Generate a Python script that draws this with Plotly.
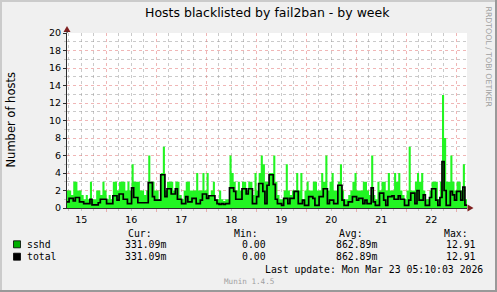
import pandas as pd
import plotly.graph_objects as go

# ---------------- data ----------------
title = "Hosts blacklisted by fail2ban - by week"
y_title = "Number of hosts"
start = "2026-03-15 05:10:03"
end = "2026-03-23 05:10:03"

# hourly values (192 hours)
sshd = [2, 2, 1.5, 3, 3, 2, 2, 1.5, 1, 1.5, 1, 3, 1, 1, 2, 2, 1.5, 3, 2, 1,
        1.5, 1, 3, 3, 2, 3, 3, 3, 2, 3, 2, 5, 3, 3, 3, 2, 2, 1.5, 2, 6,
        3, 3, 2, 2, 1, 4, 7, 2,
        3, 3, 3, 2, 3, 3, 1.5, 1, 2, 3, 3, 2, 2, 2, 4, 2, 2, 4, 2, 4,
        1.5, 2, 3, 1, 1, 2, 1, 0.8, 1, 1, 6, 4, 3, 2, 3, 2, 3, 3, 2, 3,
        3, 1.5, 4, 2, 4, 6, 5, 3,
        3, 4, 4, 6, 3, 1.5, 1, 1, 2, 5, 2, 1.5, 2, 2, 4, 2, 4, 1, 2, 3,
        2, 2, 3, 3, 2, 2, 4, 3, 6, 2, 3, 4, 2, 2, 3, 5, 2, 1, 1, 1.5,
        2, 3, 4, 2, 2, 2, 3, 3,
        2, 1.5, 6, 1.5, 1, 3, 2, 3, 3, 2, 4, 2, 2, 4, 3, 4, 2, 1.5, 1, 2,
        7, 2, 2, 3, 4, 3, 4, 2, 1, 1, 2, 3, 3, 3, 1, 3, 12.91, 8, 3, 3,
        6, 3, 2, 3, 3, 2, 5, 1]

total = [0.7, 1.1, 1.1, 0.8, 1.2, 1.2, 0.7, 0.7, 0.5, 0.5, 0.5, 1.0, 0.35, 0.35, 0.35, 0.6, 1.0, 1.0, 1.0, 0.5,
         0.5, 0.5, 1.4, 1.4, 0.9, 1.6, 1.6, 1.0, 1.0, 0.5, 0.5, 2.3, 1.2, 1.2, 0.6, 0.6, 0.6, 0.6, 0.6, 2.9,
         2.9, 1.3, 0.9, 0.9, 0.9, 3.8, 3.8, 1.3,
         2.2, 2.2, 1.6, 1.6, 2.2, 1.0, 1.0, 0.5, 0.5, 1.3, 0.7, 0.7, 1.1, 1.1, 0.5, 0.5, 0.9, 1.6, 1.6, 1.1,
         1.4, 1.4, 1.4, 0.9, 0.5, 0.4, 0.5, 0.4, 0.5, 0.5, 2.3, 2.3, 1.9, 1.0, 1.0, 1.0, 2.2, 2.2, 1.6, 2.2,
         2.2, 0.5, 0.5, 1.3, 2.8, 2.8, 1.9, 0.5,
         2.6, 3.8, 3.8, 2.7, 1.0, 0.5, 0.5, 0.3, 1.1, 1.1, 0.5, 1.1, 1.1, 1.9, 1.9, 0.5, 0.5, 0.9, 0.3, 0.3,
         1.3, 1.3, 1.1, 0.3, 0.3, 1.3, 1.3, 2.2, 2.2, 0.5, 0.9, 0.9, 0.5, 0.5, 2.6, 2.6, 0.9, 0.3, 0.3, 0.7,
         0.7, 1.3, 1.3, 0.9, 1.1, 1.1, 0.5, 0.9,
         0.5, 0.5, 2.3, 0.7, 0.3, 0.3, 1.7, 1.7, 0.9, 0.3, 1.3, 1.3, 1.4, 1.0, 1.0, 1.4, 1.0, 1.0, 0.3, 0.3,
         0.9, 1.7, 1.7, 0.5, 2.0, 0.9, 0.9, 1.5, 0.3, 0.3, 1.2, 2.2, 2.2, 0.9, 0.3, 1.2, 5.3, 2.0, 0.3, 0.3,
         1.9, 1.5, 0.9, 1.9, 1.9, 0.9, 2.4, 0.33]

legend_names = ["sshd", "total"]
stat_headers = ["Cur:", "Min:", "Avg:", "Max:"]
sshd_stats = ["331.09m", "0.00", "862.89m", "12.91"]
total_stats = ["331.09m", "0.00", "862.89m", "12.91"]
last_update = "Last update: Mon Mar 23 05:10:03 2026"
version = "Munin 1.4.5"
watermark = "RRDTOOL / TOBI OETIKER"

# ---------------- styles ----------------
W, H = 497, 292
L, R, T, B = 67, 467, 33, 208
GREEN_AREA = "#22F522"
GREEN_SWATCH = "#00B000"
MGRID = "rgba(225,110,110,0.5)"
GRID = "rgba(150,150,150,0.5)"
AXIS = "#2C2C2C"
ARROW = "#7F1F1F"
SANS = "DejaVu Sans"
MONO = "DejaVu Sans Mono"


def px(x):
    return (x - L) / (R - L)


def py(y):
    return (B - y) / (B - T)


times = pd.date_range(start, periods=len(sshd) + 1, freq="h")
sshd_y = sshd + [sshd[-1]]
total_y = total + [total[-1]]

# minor grid positions that do not coincide with the major grid
x_minor = [t for t in pd.date_range("2026-03-15 00:00", "2026-03-23 12:00", freq="6h") if t.hour != 0]
y_minor = list(range(1, 20, 2))

fig = go.Figure()
fig.add_trace(go.Scatter(x=times, y=sshd_y, mode="lines", name=legend_names[0],
                         line=dict(width=0, shape="hv", color=GREEN_AREA),
                         fill="tozeroy", fillcolor=GREEN_AREA, hoverinfo="skip"))
fig.add_trace(go.Scatter(x=times, y=total_y, mode="lines", name=legend_names[1],
                         line=dict(width=1.7, shape="hv", color="#000000"), hoverinfo="skip"))

fig.update_layout(
    width=W, height=H,
    margin=dict(l=L, r=W - R, t=T, b=H - B, pad=0),
    paper_bgcolor="#F0F0F0", plot_bgcolor="#FFFFFF",
    showlegend=False,
    font=dict(family=SANS, size=9, color="#000000"),
    xaxis=dict(
        type="date", range=[start, end], dtick=86400000, tickformat="%d",
        ticklabelmode="period", showgrid=True, gridcolor=MGRID, griddash="dot", gridwidth=1,
        ticks="outside", ticklen=3, tickcolor=MGRID, showline=True, linecolor=AXIS, linewidth=1,
        zeroline=False, tickfont=dict(family=SANS, size=9.5),
        minor=dict(tickmode="array", tickvals=x_minor, showgrid=True, gridcolor=GRID,
                   griddash="dot", gridwidth=1, ticks="outside", ticklen=2, tickcolor=GRID),
        fixedrange=True,
    ),
    yaxis=dict(
        range=[0, 20], dtick=2, tick0=0, showgrid=True, gridcolor=MGRID, griddash="dot", gridwidth=1,
        ticks="outside", ticklen=3, tickcolor=AXIS, showline=True, linecolor=AXIS, linewidth=1,
        zeroline=False, tickfont=dict(family=SANS, size=9.5),
        minor=dict(tickmode="array", tickvals=y_minor, showgrid=True, gridcolor=GRID,
                   griddash="dot", gridwidth=1, ticks="outside", ticklen=2, tickcolor=GRID),
        fixedrange=True,
    ),
)

ann = []
ann.append(dict(text=title, x=px(267), y=py(13), xref="paper", yref="paper",
                xanchor="center", yanchor="middle", showarrow=False,
                font=dict(family=SANS, size=12.5, color="#000000")))
ann.append(dict(text=y_title, x=px(10), y=py(120.5), xref="paper", yref="paper",
                xanchor="center", yanchor="middle", showarrow=False, textangle=-90,
                font=dict(family=SANS, size=11.5, color="#000000")))
ann.append(dict(text=watermark, x=px(488), y=py(56.5), xref="paper", yref="paper",
                xanchor="center", yanchor="middle", showarrow=False, textangle=90,
                font=dict(family=SANS, size=7.8, color="#A0A0A0")))

mono = dict(family=MONO, size=9.8, color="#000000")
header_right = [153, 259, 364, 469]
value_right = [167, 267, 378, 477]
for h, xr in zip(stat_headers, header_right):
    ann.append(dict(text=h, x=px(xr), y=py(233), xref="paper", yref="paper",
                    xanchor="right", yanchor="middle", showarrow=False, font=mono))
rows_y = [244.3, 256.7]
for name, stats, yy in zip(legend_names, [sshd_stats, total_stats], rows_y):
    ann.append(dict(text=name, x=px(26), y=py(yy), xref="paper", yref="paper",
                    xanchor="left", yanchor="middle", showarrow=False, font=mono))
    for s, xr in zip(stats, value_right):
        ann.append(dict(text=s, x=px(xr), y=py(yy), xref="paper", yref="paper",
                        xanchor="right", yanchor="middle", showarrow=False, font=mono))
ann.append(dict(text=last_update, x=px(484), y=py(269), xref="paper", yref="paper",
                xanchor="right", yanchor="middle", showarrow=False, font=mono))
ann.append(dict(text=version, x=px(248.5), y=py(281), xref="paper", yref="paper",
                xanchor="center", yanchor="middle", showarrow=False,
                font=dict(family=MONO, size=7.6, color="#A0A0A0")))
for a in ann:
    a["borderpad"] = 0
fig.update_layout(annotations=ann)

shapes = []
# legend swatches
for yy, col in zip(rows_y, [GREEN_SWATCH, "#000000"]):
    shapes.append(dict(type="rect", xref="paper", yref="paper",
                       x0=px(13.5), x1=px(20.5), y0=py(yy - 3.5), y1=py(yy + 3.5),
                       fillcolor=col, line=dict(color="#000000", width=0.8)))
# axis arrows
shapes.append(dict(type="path", xref="paper", yref="paper",
                   path=f"M {px(63.5)},{py(32)} L {px(70.5)},{py(32)} L {px(67)},{py(26)} Z",
                   fillcolor=ARROW, line=dict(width=0)))
shapes.append(dict(type="line", xref="paper", yref="paper",
                   x0=px(67), x1=px(67), y0=py(33), y1=py(31), line=dict(color=AXIS, width=1)))
shapes.append(dict(type="path", xref="paper", yref="paper",
                   path=f"M {px(467.5)},{py(204.5)} L {px(467.5)},{py(211.5)} L {px(473.5)},{py(208)} Z",
                   fillcolor=ARROW, line=dict(width=0)))
# frame shading
shapes.append(dict(type="rect", xref="paper", yref="paper", x0=px(0), x1=px(W), y0=py(0), y1=py(2),
                   fillcolor="#CBCBCB", line=dict(width=0)))
shapes.append(dict(type="rect", xref="paper", yref="paper", x0=px(0), x1=px(2), y0=py(0), y1=py(H),
                   fillcolor="#CBCBCB", line=dict(width=0)))
shapes.append(dict(type="rect", xref="paper", yref="paper", x0=px(0), x1=px(W), y0=py(H - 2), y1=py(H),
                   fillcolor="#999999", line=dict(width=0)))
shapes.append(dict(type="rect", xref="paper", yref="paper", x0=px(W - 2), x1=px(W), y0=py(0), y1=py(H),
                   fillcolor="#999999", line=dict(width=0)))
fig.update_layout(shapes=shapes)

fig.write_html("out.html", config={"displayModeBar": False})
